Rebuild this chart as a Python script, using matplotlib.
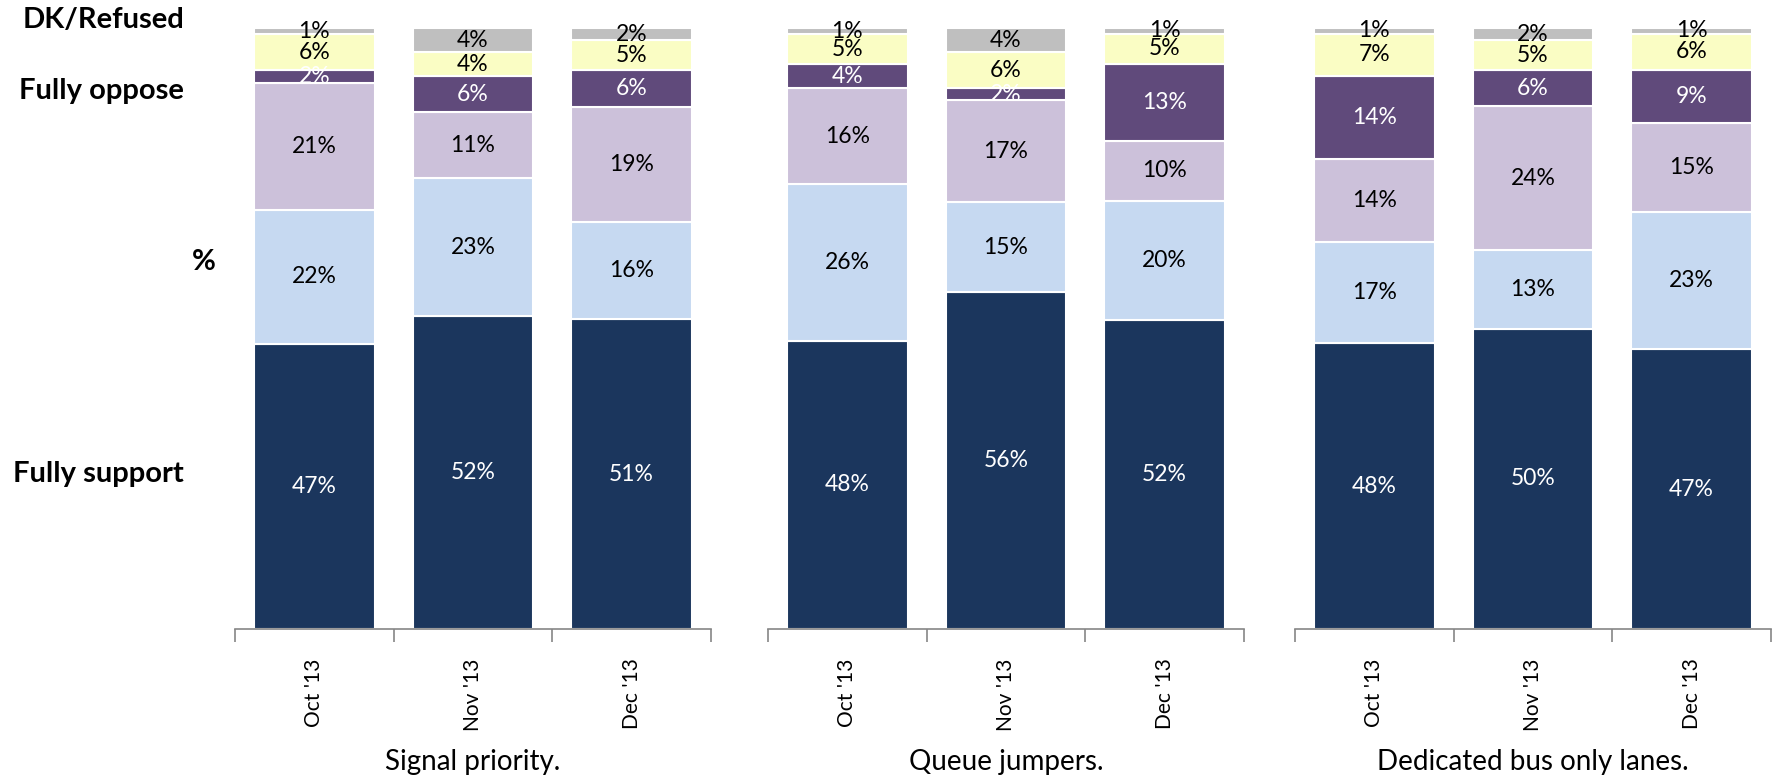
import numpy as np
import matplotlib
matplotlib.use("Agg")
import matplotlib.pyplot as plt

plt.rcParams['font.family'] = ['Lato', 'DejaVu Sans']

# Data: segments from the bottom up
months = ["Oct '13", "Nov '13", "Dec '13"]
groups = ["Signal priority.", "Queue jumpers.", "Dedicated bus only lanes."]

fully_support = [[47, 52, 51], [48, 56, 52], [48, 50, 47]]
somewhat_support = [[22, 23, 16], [26, 15, 20], [17, 13, 23]]
neutral = [[21, 11, 19], [16, 17, 10], [14, 24, 15]]
fully_oppose = [[2, 6, 6], [4, 2, 13], [14, 6, 9]]
somewhat_oppose = [[6, 4, 5], [5, 6, 5], [7, 5, 6]]
dk_refused = [[1, 4, 2], [1, 4, 1], [1, 2, 1]]

series = [fully_support, somewhat_support, neutral, fully_oppose, somewhat_oppose, dk_refused]
colors = ['#1b365d', '#c6d9f1', '#ccc1da', '#604a7b', '#fafdc4', '#bfbfbf']
text_colors = ['white', 'black', 'black', 'white', 'black', 'black']

W, H = 1777, 779
fig = plt.figure(figsize=(W / 100, H / 100), dpi=100)

# axes extents in pixels
ax_x = [(235, 711), (768, 1244), (1295, 1771)]
y_bot, y_top = 629, 28

for g, (x0, x1) in enumerate(ax_x):
    ax = fig.add_axes([x0 / W, 1 - y_bot / H, (x1 - x0) / W, (y_bot - y_top) / H])
    vals = np.array([s[g] for s in series], dtype=float)
    totals = vals.sum(axis=0)
    pct = vals / totals * 100
    x = np.arange(len(months))
    bottom = np.zeros(len(months))
    for k in range(len(series)):
        ax.bar(x, pct[k], 0.76, bottom=bottom, color=colors[k],
               edgecolor='white', linewidth=1.5, zorder=2)
        for i in range(len(months)):
            ax.text(x[i], bottom[i] + pct[k][i] / 2, f"{int(vals[k][i])}%",
                    ha='center', va='center', fontsize=16.5,
                    color=text_colors[k], zorder=3)
        bottom += pct[k]
    ax.set_xlim(-0.5, 2.5)
    ax.set_ylim(0, 100)
    for side in ['top', 'right', 'left']:
        ax.spines[side].set_visible(False)
    ax.spines['bottom'].set_color('#868686')
    ax.spines['bottom'].set_linewidth(1.2)
    ax.set_yticks([])
    ax.set_xticks(x)
    ax.set_xticklabels(months, rotation=90, fontsize=15)
    ax.tick_params(axis='x', which='major', length=0, pad=21)
    ax.set_xticks([-0.5, 0.5, 1.5, 2.5], minor=True)
    ax.tick_params(axis='x', which='minor', length=9, width=1.2, color='#868686')
    fig.text((x0 + x1) / 2 / W, 1 - 762 / H, groups[g], ha='center', va='center',
             fontsize=20)

# left side labels
lbl = dict(ha='right', va='center', fontsize=21, fontweight='bold')
fig.text(184 / W, 1 - 20 / H, "DK/Refused", **lbl)
fig.text(184 / W, 1 - 91 / H, "Fully oppose", **lbl)
fig.text(204 / W, 1 - 262 / H, "%", ha='center', va='center', fontsize=21, fontweight='bold')
fig.text(184 / W, 1 - 474 / H, "Fully support", **lbl)

fig.savefig("out.png", dpi=100)
